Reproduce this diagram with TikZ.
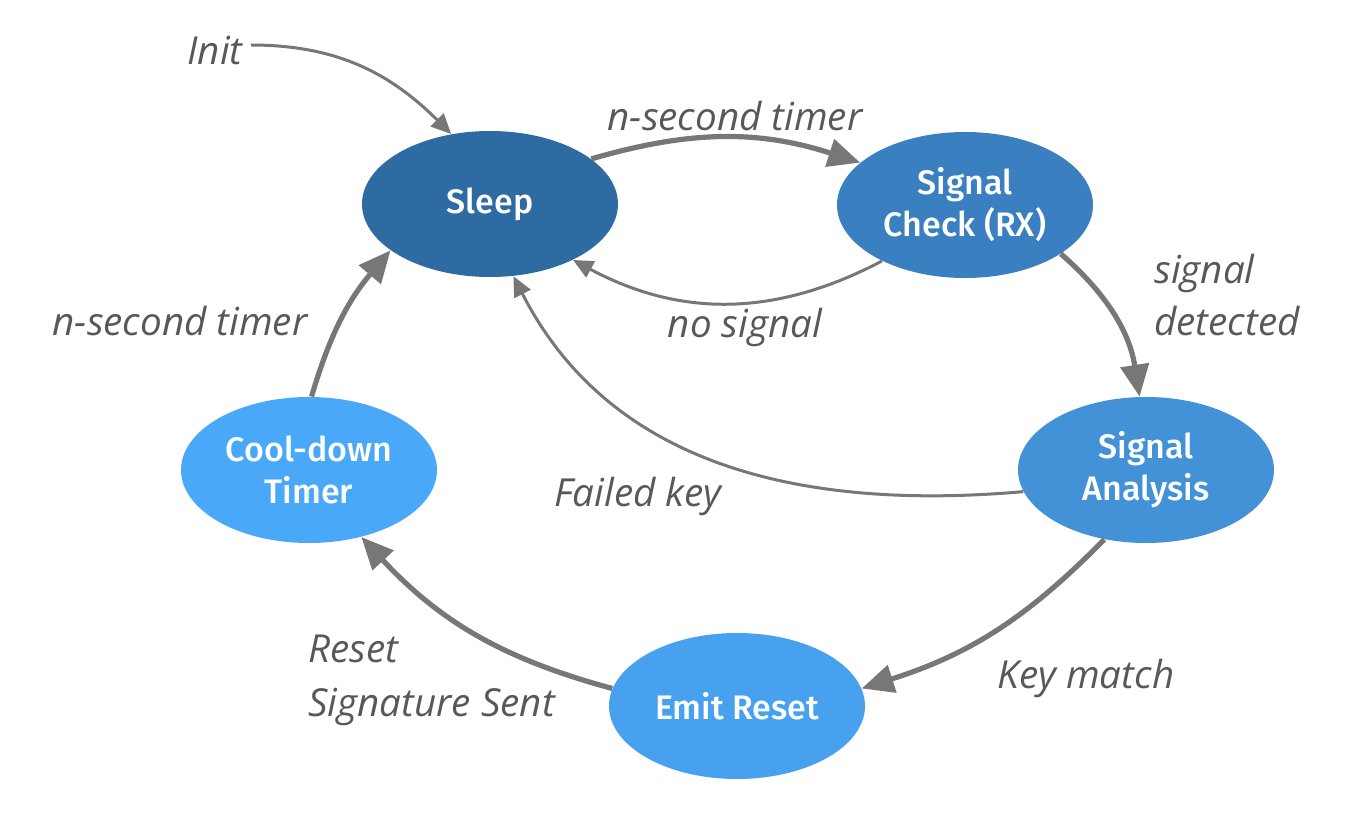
\documentclass[tikz,border=0pt]{standalone}
\usepackage{fontspec}
\newfontfamily\labelfont{Open Sans}
\newfontfamily\nodefont{Fira Sans}[UprightFont=* Medium]
\usetikzlibrary{shapes.geometric,arrows.meta}
\definecolor{cSleep}{RGB}{46,107,163}
\definecolor{cCheck}{RGB}{58,127,191}
\definecolor{cAnalysis}{RGB}{67,145,215}
\definecolor{cEmit}{RGB}{72,161,238}
\definecolor{cCool}{RGB}{74,168,248}
\definecolor{edgegray}{RGB}{118,119,118}
\definecolor{labelgray}{RGB}{88,88,88}
\begin{document}
\begin{tikzpicture}[x=0.5pt,y=0.5pt,
  state/.style={ellipse, minimum width=128pt, minimum height=73pt, inner sep=0pt,
    text=white, font=\nodefont\fontsize{17}{21}\selectfont, align=center},
  lbl/.style={text=labelgray, font=\labelfont\itshape\fontsize{19.3}{26}\selectfont,
    align=center, inner sep=0pt},
  thickedge/.style={draw=edgegray, line width=2.6pt, -{Triangle[length=16pt,width=14pt]}},
  thinedge/.style={draw=edgegray, line width=1.5pt, -{Triangle[length=10pt,width=9pt]}},
]
\useasboundingbox (0,0) rectangle (1372,816);

\node[state, fill=cSleep] (sleep) at (490,612) {Sleep};
\node[state, fill=cCheck] (check) at (965,611) {Signal\\Check (RX)};
\node[state, fill=cAnalysis] (analysis) at (1146,346) {Signal\\Analysis};
\node[state, fill=cCool] (cool) at (309,346) {Cool-down\\Timer};
\node[state, fill=cEmit] (emit) at (737,110) {Emit Reset};

\node[lbl] (init) at (215,765) {Init};
\node[lbl] (ltimer1) at (735,700) {n-second timer};
\node[lbl] (lnosig) at (745,489) {no signal};
\node[lbl, align=left] (ldet) at (1227,521) {signal\\detected};
\node[lbl] (lfail) at (638,320) {Failed key};
\node[lbl] (lkey) at (1086,138) {Key match};
\node[lbl, align=left, anchor=west, font=\labelfont\itshape\fontsize{19.3}{27}\selectfont] (lreset) at (308,136) {Reset\\Signature Sent};
\node[lbl] (ltimer2) at (180,495) {n-second timer};

\draw[thinedge] ([xshift=4pt,yshift=3pt]init.east) to[out=0, in=135] (sleep.119);
\draw[thickedge] (sleep.24) to[bend left=17] (check.158);
\draw[thinedge] (check.214) to[bend left=28] (sleep.326);
\draw[thickedge] (check.333) to[bend left=20] (analysis.95);
\draw[thinedge] (analysis.190) to[out=185, in=-63] (sleep.288);
\draw[thickedge] (analysis.239) to[bend left=14] (emit.8);
\draw[thickedge] (emit.172) to[bend left=16] (cool.308);
\draw[thickedge] (cool.88) to[bend left=12] (sleep.205);
\end{tikzpicture}
\end{document}
